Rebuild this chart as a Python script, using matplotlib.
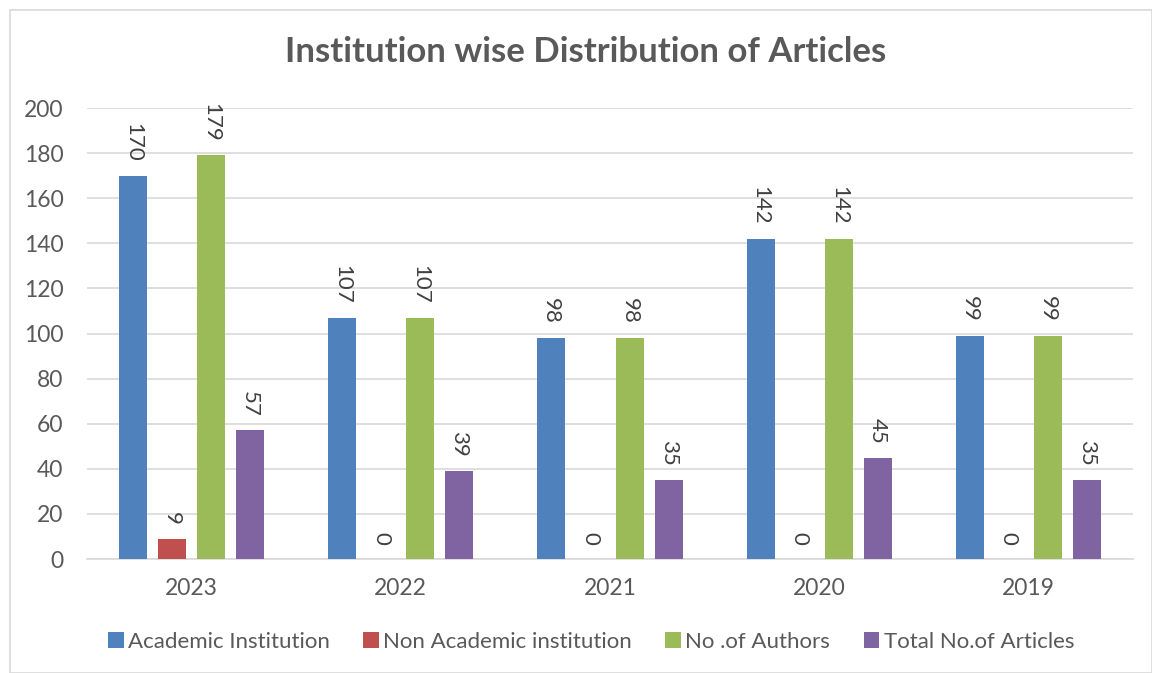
import matplotlib.pyplot as plt
import numpy as np
from matplotlib.patches import Rectangle

years = ['2023', '2022', '2021', '2020', '2019']
academic = [170, 107, 98, 142, 99]
non_academic = [9, 0, 0, 0, 0]
authors = [179, 107, 98, 142, 99]
articles = [57, 39, 35, 45, 35]

series = [
    ('Academic Institution', academic, '#4f81bd'),
    ('Non Academic institution', non_academic, '#c0504d'),
    ('No .of Authors', authors, '#9bbb59'),
    ('Total No.of Articles', articles, '#8064a2'),
]

plt.rcParams['font.family'] = ['Lato', 'DejaVu Sans']
text_color = '#595959'

fig = plt.figure(figsize=(11.52, 6.73), dpi=100)
fig.patches.append(Rectangle((10 / 1152, 0), 1 - 10 / 1152, 1 - 10 / 673,
                             transform=fig.transFigure, fill=False,
                             edgecolor='#d9d9d9', linewidth=1.2))
ax = fig.add_axes([87 / 1152, 1 - 559 / 673, (1133 - 87) / 1152, (559 - 108) / 673])

x = np.arange(len(years))
width = 0.134
step = 0.187
for i, (name, vals, color) in enumerate(series):
    pos = x + (i - 1.5) * step
    bars = ax.bar(pos, vals, width, color=color, label=name, zorder=3)
    for b, v in zip(bars, vals):
        ax.annotate(str(v), (b.get_x() + b.get_width() / 2, v),
                    xytext=(0, 10), textcoords='offset points',
                    rotation=-90, ha='center', va='bottom',
                    fontsize=16, color='#404040')

ax.set_xlim(-0.5, len(years) - 0.5)
ax.set_ylim(0, 200)
ax.set_yticks(range(0, 201, 20))
ax.set_xticks(x)
ax.set_xticklabels(years)
ax.yaxis.grid(True, color='#d9d9d9', linewidth=1.2, zorder=0)
for s in ['top', 'right', 'left']:
    ax.spines[s].set_visible(False)
ax.spines['bottom'].set_color('#d9d9d9')
ax.spines['bottom'].set_linewidth(1.2)
ax.tick_params(axis='both', length=0, labelsize=16.5, colors=text_color)
ax.tick_params(axis='x', pad=14)
ax.tick_params(axis='y', pad=17)

fig.text(586 / 1152, 1 - 52 / 673, 'Institution wise Distribution of Articles',
         ha='center', va='center', fontsize=25, fontweight='bold', color=text_color)

fig.legend(loc='center', bbox_to_anchor=(591 / 1152, 1 - 642 / 673), ncol=4,
           frameon=False, fontsize=16, labelcolor=text_color,
           handlelength=0.7, handleheight=0.7, handletextpad=0.2, columnspacing=1.5)

fig.savefig('out.png', dpi=100)
